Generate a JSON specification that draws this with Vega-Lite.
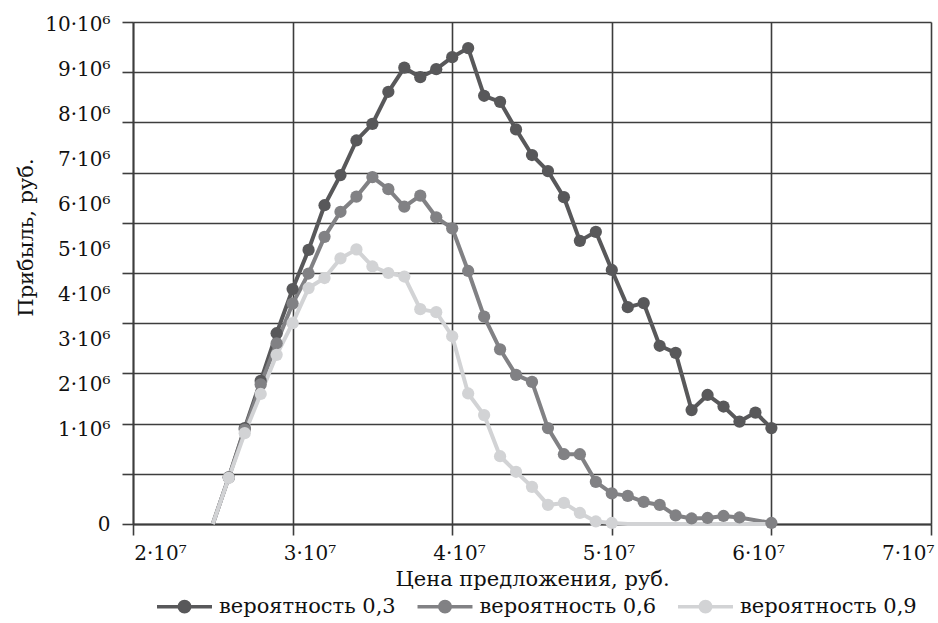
{
  "$schema": "https://vega.github.io/schema/vega-lite/v6.json",
  "width": 798,
  "height": 502,
  "autosize": "none",
  "padding": {"left": 133, "top": 22, "right": 7, "bottom": 99},
  "background": "white",
  "config": {
    "view": {"stroke": null},
    "font": "DejaVu Serif",
    "axis": {
      "gridColor": "#3d3d3d",
      "gridWidth": 1.6,
      "gridOpacity": 1,
      "domainColor": "#3d3d3d",
      "domainWidth": 1.8,
      "tickColor": "#3d3d3d",
      "tickWidth": 1.6,
      "labelFont": "DejaVu Serif",
      "labelFontSize": 20,
      "labelColor": "#111111",
      "titleFont": "DejaVu Serif",
      "titleFontSize": 21,
      "titleFontWeight": "normal",
      "titleColor": "#111111"
    }
  },
  "data": {
    "values": [
      {"series": "вероятность 0,3", "price": 25000000, "profit": 0},
      {"series": "вероятность 0,3", "price": 26000000, "profit": 930000},
      {"series": "вероятность 0,3", "price": 27000000, "profit": 1910000},
      {"series": "вероятность 0,3", "price": 28000000, "profit": 2850000},
      {"series": "вероятность 0,3", "price": 29000000, "profit": 3800000},
      {"series": "вероятность 0,3", "price": 30000000, "profit": 4680000},
      {"series": "вероятность 0,3", "price": 31000000, "profit": 5460000},
      {"series": "вероятность 0,3", "price": 32000000, "profit": 6350000},
      {"series": "вероятность 0,3", "price": 33000000, "profit": 6950000},
      {"series": "вероятность 0,3", "price": 34000000, "profit": 7640000},
      {"series": "вероятность 0,3", "price": 35000000, "profit": 7970000},
      {"series": "вероятность 0,3", "price": 36000000, "profit": 8610000},
      {"series": "вероятность 0,3", "price": 37000000, "profit": 9090000},
      {"series": "вероятность 0,3", "price": 38000000, "profit": 8900000},
      {"series": "вероятность 0,3", "price": 39000000, "profit": 9060000},
      {"series": "вероятность 0,3", "price": 40000000, "profit": 9300000},
      {"series": "вероятность 0,3", "price": 41000000, "profit": 9480000},
      {"series": "вероятность 0,3", "price": 42000000, "profit": 8530000},
      {"series": "вероятность 0,3", "price": 43000000, "profit": 8410000},
      {"series": "вероятность 0,3", "price": 44000000, "profit": 7860000},
      {"series": "вероятность 0,3", "price": 45000000, "profit": 7350000},
      {"series": "вероятность 0,3", "price": 46000000, "profit": 7030000},
      {"series": "вероятность 0,3", "price": 47000000, "profit": 6510000},
      {"series": "вероятность 0,3", "price": 48000000, "profit": 5640000},
      {"series": "вероятность 0,3", "price": 49000000, "profit": 5820000},
      {"series": "вероятность 0,3", "price": 50000000, "profit": 5060000},
      {"series": "вероятность 0,3", "price": 51000000, "profit": 4320000},
      {"series": "вероятность 0,3", "price": 52000000, "profit": 4400000},
      {"series": "вероятность 0,3", "price": 53000000, "profit": 3550000},
      {"series": "вероятность 0,3", "price": 54000000, "profit": 3410000},
      {"series": "вероятность 0,3", "price": 55000000, "profit": 2270000},
      {"series": "вероятность 0,3", "price": 56000000, "profit": 2570000},
      {"series": "вероятность 0,3", "price": 57000000, "profit": 2340000},
      {"series": "вероятность 0,3", "price": 58000000, "profit": 2040000},
      {"series": "вероятность 0,3", "price": 59000000, "profit": 2220000},
      {"series": "вероятность 0,3", "price": 60000000, "profit": 1910000},
      {"series": "вероятность 0,6", "price": 25000000, "profit": 0},
      {"series": "вероятность 0,6", "price": 26000000, "profit": 930000},
      {"series": "вероятность 0,6", "price": 27000000, "profit": 1880000},
      {"series": "вероятность 0,6", "price": 28000000, "profit": 2780000},
      {"series": "вероятность 0,6", "price": 29000000, "profit": 3600000},
      {"series": "вероятность 0,6", "price": 30000000, "profit": 4390000},
      {"series": "вероятность 0,6", "price": 31000000, "profit": 4990000},
      {"series": "вероятность 0,6", "price": 32000000, "profit": 5720000},
      {"series": "вероятность 0,6", "price": 33000000, "profit": 6220000},
      {"series": "вероятность 0,6", "price": 34000000, "profit": 6520000},
      {"series": "вероятность 0,6", "price": 35000000, "profit": 6910000},
      {"series": "вероятность 0,6", "price": 36000000, "profit": 6670000},
      {"series": "вероятность 0,6", "price": 37000000, "profit": 6320000},
      {"series": "вероятность 0,6", "price": 38000000, "profit": 6540000},
      {"series": "вероятность 0,6", "price": 39000000, "profit": 6110000},
      {"series": "вероятность 0,6", "price": 40000000, "profit": 5890000},
      {"series": "вероятность 0,6", "price": 41000000, "profit": 5040000},
      {"series": "вероятность 0,6", "price": 42000000, "profit": 4130000},
      {"series": "вероятность 0,6", "price": 43000000, "profit": 3480000},
      {"series": "вероятность 0,6", "price": 44000000, "profit": 2970000},
      {"series": "вероятность 0,6", "price": 45000000, "profit": 2830000},
      {"series": "вероятность 0,6", "price": 46000000, "profit": 1910000},
      {"series": "вероятность 0,6", "price": 47000000, "profit": 1390000},
      {"series": "вероятность 0,6", "price": 48000000, "profit": 1390000},
      {"series": "вероятность 0,6", "price": 49000000, "profit": 840000},
      {"series": "вероятность 0,6", "price": 50000000, "profit": 610000},
      {"series": "вероятность 0,6", "price": 51000000, "profit": 560000},
      {"series": "вероятность 0,6", "price": 52000000, "profit": 440000},
      {"series": "вероятность 0,6", "price": 53000000, "profit": 380000},
      {"series": "вероятность 0,6", "price": 54000000, "profit": 170000},
      {"series": "вероятность 0,6", "price": 55000000, "profit": 110000},
      {"series": "вероятность 0,6", "price": 56000000, "profit": 120000},
      {"series": "вероятность 0,6", "price": 57000000, "profit": 160000},
      {"series": "вероятность 0,6", "price": 58000000, "profit": 130000},
      {"series": "вероятность 0,6", "price": 60000000, "profit": 20000},
      {"series": "вероятность 0,9", "price": 25000000, "profit": 0},
      {"series": "вероятность 0,9", "price": 26000000, "profit": 920000},
      {"series": "вероятность 0,9", "price": 27000000, "profit": 1810000},
      {"series": "вероятность 0,9", "price": 28000000, "profit": 2590000},
      {"series": "вероятность 0,9", "price": 29000000, "profit": 3370000},
      {"series": "вероятность 0,9", "price": 30000000, "profit": 4000000},
      {"series": "вероятность 0,9", "price": 31000000, "profit": 4700000},
      {"series": "вероятность 0,9", "price": 32000000, "profit": 4900000},
      {"series": "вероятность 0,9", "price": 33000000, "profit": 5290000},
      {"series": "вероятность 0,9", "price": 34000000, "profit": 5470000},
      {"series": "вероятность 0,9", "price": 35000000, "profit": 5130000},
      {"series": "вероятность 0,9", "price": 36000000, "profit": 5000000},
      {"series": "вероятность 0,9", "price": 37000000, "profit": 4930000},
      {"series": "вероятность 0,9", "price": 38000000, "profit": 4280000},
      {"series": "вероятность 0,9", "price": 39000000, "profit": 4220000},
      {"series": "вероятность 0,9", "price": 40000000, "profit": 3740000},
      {"series": "вероятность 0,9", "price": 41000000, "profit": 2600000},
      {"series": "вероятность 0,9", "price": 42000000, "profit": 2170000},
      {"series": "вероятность 0,9", "price": 43000000, "profit": 1350000},
      {"series": "вероятность 0,9", "price": 44000000, "profit": 1040000},
      {"series": "вероятность 0,9", "price": 45000000, "profit": 740000},
      {"series": "вероятность 0,9", "price": 46000000, "profit": 380000},
      {"series": "вероятность 0,9", "price": 47000000, "profit": 420000},
      {"series": "вероятность 0,9", "price": 48000000, "profit": 220000},
      {"series": "вероятность 0,9", "price": 49000000, "profit": 50000},
      {"series": "вероятность 0,9", "price": 50000000, "profit": 20000},
      {"series": "вероятность 0,9", "price": 51000000, "profit": 0},
      {"series": "вероятность 0,9", "price": 52000000, "profit": 0},
      {"series": "вероятность 0,9", "price": 53000000, "profit": 0},
      {"series": "вероятность 0,9", "price": 54000000, "profit": 0},
      {"series": "вероятность 0,9", "price": 55000000, "profit": 0},
      {"series": "вероятность 0,9", "price": 56000000, "profit": 0},
      {"series": "вероятность 0,9", "price": 57000000, "profit": 0},
      {"series": "вероятность 0,9", "price": 58000000, "profit": 0},
      {"series": "вероятность 0,9", "price": 59000000, "profit": 0},
      {"series": "вероятность 0,9", "price": 60000000, "profit": 0}
    ]
  },
  "layer": [
    {
      "mark": {"type": "line", "strokeWidth": 4, "strokeJoin": "round"},
      "encoding": {
        "x": {
          "field": "price", "type": "quantitative",
          "scale": {"domain": [20000000, 70000000], "nice": false, "zero": false},
          "axis": {"orient": "bottom", "values": [20000000, 30000000, 40000000, 50000000, 60000000, 70000000], "labels": false, "grid": true, "ticks": true, "tickSize": 11, "domain": true, "title": null}
        },
        "y": {
          "field": "profit", "type": "quantitative",
          "scale": {"domain": [0, 10000000], "nice": false, "zero": true},
          "axis": {"orient": "left", "values": [0, 1000000, 2000000, 3000000, 4000000, 5000000, 6000000, 7000000, 8000000, 9000000, 10000000], "labels": false, "grid": true, "ticks": true, "tickSize": 11, "domain": true, "title": null}
        },
        "color": {
          "field": "series", "type": "nominal",
          "scale": {"domain": ["вероятность 0,3", "вероятность 0,6", "вероятность 0,9"], "range": ["#58585a", "#818184", "#d2d3d5"]},
          "legend": {
            "title": null, "orient": "none", "direction": "horizontal", "legendX": 41, "legendY": 574,
            "symbolType": "M-5.24,0L5.24,0M1,0A1,1,0,1,1,-1,0A1,1,0,1,1,1,0Z",
            "symbolSize": 110, "symbolStrokeWidth": 3.5, "labelOffset": 24,
            "labelFont": "DejaVu Serif", "labelFontSize": 21, "labelColor": "#111111", "labelLimit": 400,
            "columnPadding": 14.5, "padding": 0,
            "encode": {"symbols": {"update": {"fill": {"scale": "color", "field": "value"}, "stroke": {"scale": "color", "field": "value"}, "opacity": {"value": 1}}}}
          }
        }
      }
    },
    {
      "transform": [{"filter": "datum.profit > 0"}],
      "mark": {"type": "point", "filled": true, "size": 150, "opacity": 1},
      "encoding": {
        "x": {
          "field": "price", "type": "quantitative",
          "axis": {"orient": "bottom", "values": [21690000, 31060000, 40430000, 49800000, 59170000, 68540000], "labelExpr": "(round((datum.value - 21690000) / 9370000) + 2) + '·10⁷'", "grid": false, "ticks": false, "tickSize": 0, "domain": false, "labelPadding": 19, "labelBaseline": "top", "labelFlush": false, "labelOverlap": false, "title": "Цена предложения, руб.", "titleX": 399, "titleY": 61, "titleAlign": "center", "titleBaseline": "alphabetic"}
        },
        "y": {
          "field": "profit", "type": "quantitative",
          "axis": {"orient": "left", "values": [0, 1880000, 2776000, 3672000, 4568000, 5464000, 6360000, 7256000, 8152000, 9048000, 9944000], "labelExpr": "datum.value < 1000000 ? '0' : (round((datum.value - 1880000) / 896000) + 1) + '·10⁶'", "grid": false, "ticks": false, "tickSize": 0, "domain": false, "labelPadding": 23, "labelAlign": "right", "labelBaseline": "middle", "labelFlush": false, "labelOverlap": false, "title": "Прибыль, руб.", "titleAngle": 270, "titleX": -101, "titleY": 215, "titleAlign": "center", "titleBaseline": "alphabetic"}
        },
        "color": {
          "field": "series", "type": "nominal",
          "legend": {
            "title": null, "orient": "none", "direction": "horizontal", "legendX": 41, "legendY": 574,
            "symbolType": "M-5.24,0L5.24,0M1,0A1,1,0,1,1,-1,0A1,1,0,1,1,1,0Z",
            "symbolSize": 110, "symbolStrokeWidth": 3.5, "labelOffset": 24,
            "labelFont": "DejaVu Serif", "labelFontSize": 21, "labelColor": "#111111", "labelLimit": 400,
            "columnPadding": 14.5, "padding": 0,
            "encode": {"symbols": {"update": {"fill": {"scale": "color", "field": "value"}, "stroke": {"scale": "color", "field": "value"}, "opacity": {"value": 1}}}}
          }
        }
      }
    }
  ],
  "resolve": {"axis": {"x": "independent", "y": "independent"}}
}
